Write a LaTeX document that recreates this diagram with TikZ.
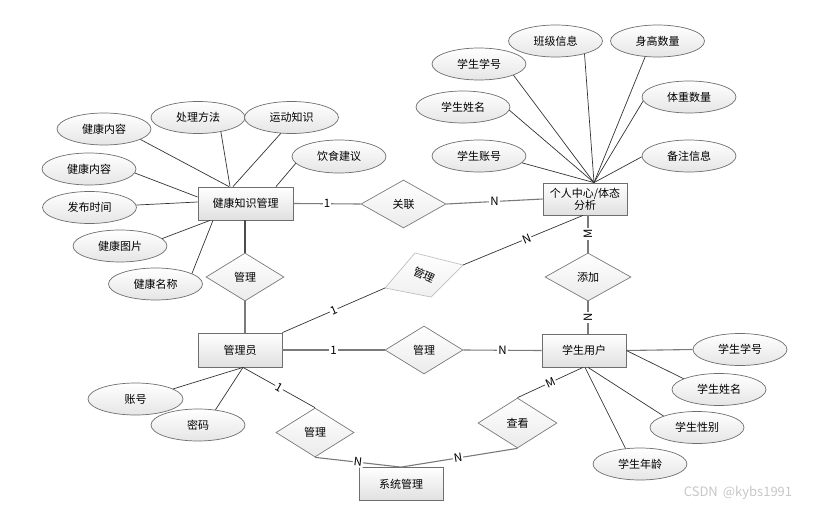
\documentclass[tikz,border=0pt]{standalone}
\usepackage{fontspec}
\setmainfont{Noto Sans CJK SC}
\usetikzlibrary{shapes.geometric,calc}
\definecolor{edgec}{HTML}{6E6E6E}
\definecolor{linec}{HTML}{333333}
\definecolor{relc}{HTML}{7A7A7A}
\tikzset{
  ent/.style={rectangle, draw=edgec, line width=0.8pt, top color=white, bottom color=black!12,
              minimum width=84pt, minimum height=33pt, inner sep=1pt, align=center},
  attr/.style={ellipse, draw=edgec, line width=0.7pt, top color=white, bottom color=black!10,
               minimum width=94pt, minimum height=32pt, inner sep=0pt},
  rel/.style={diamond, draw=relc, line width=0.7pt, top color=white, bottom color=black!8,
              minimum width=78pt, minimum height=48pt, inner sep=0pt},
  aline/.style={draw=linec, line width=0.7pt},
  rline/.style={draw=relc, line width=1.1pt},
  lab/.style={fill=white, inner sep=1pt, font=\fontsize{11.5}{13}\selectfont, text=black},
}
\begin{document}
\begin{tikzpicture}[x=1pt, y=-1pt, font=\fontsize{11}{13}\selectfont]
\useasboundingbox (0,0) rectangle (815,509);

% ---------- entities ----------
\node[ent, minimum width=95pt] (hk) at (245.5,203.5) {健康知识管理};
\node[ent, minimum height=32pt] (pc) at (585,199) {个人中心/体态\\[-1pt]分析};
\node[ent, minimum height=34pt] (ad) at (240,350) {管理员};
\node[ent] (su) at (584,350.5) {学生用户};
\node[ent] (sm) at (401,484) {系统管理};

% ---------- relationships ----------
\node[rel, minimum width=85pt] (gl) at (403.5,204) {关联};
\node[rel] (r1) at (245,277) {管理};
\node[rel, minimum width=86pt] (tj) at (588,277) {添加};
\node[rel] (r2) at (424,350) {管理};
\node[rel, minimum height=49pt] (r3) at (315,432.5) {管理};
\node[rel, minimum width=79pt, minimum height=50pt] (ck) at (517.5,423) {查看};

% light (tilted) relationship
\coordinate (lt) at (415,253);
\coordinate (lr) at (463,265);
\coordinate (lb) at (431,297);
\coordinate (ll) at (385,288);
\path[draw=black!25, line width=0.7pt, top color=white, bottom color=black!6] (lt) -- (lr) -- (lb) -- (ll) -- cycle;
\node[rotate=-25, inner sep=0pt] (ltx) at (424,275) {管理};

% ---------- attributes of 健康知识管理 ----------
\node[attr] (a1) at (104,129) {健康内容};
\node[attr] (a2) at (198,117.5) {处理方法};
\node[attr] (a3) at (291.5,117.5) {运动知识};
\node[attr, minimum height=33pt] (a4) at (339,156.5) {饮食建议};
\node[attr] (a5) at (89,169) {健康内容};
\node[attr] (a6) at (89.5,207.5) {发布时间};
\node[attr] (a7) at (120,246) {健康图片};
\node[attr] (a8) at (155.5,284) {健康名称};

% ---------- attributes of 个人中心/体态分析 ----------
\node[attr] (b1) at (479,64) {学生学号};
\node[attr] (b2) at (555.5,41) {班级信息};
\node[attr] (b3) at (657.5,41) {身高数量};
\node[attr] (b4) at (463,107) {学生姓名};
\node[attr] (b5) at (479,156) {学生账号};
\node[attr] (b6) at (689,97) {体重数量};
\node[attr] (b7) at (689,156) {备注信息};

% ---------- attributes of 学生用户 ----------
\node[attr] (c1) at (740,349.5) {学生学号};
\node[attr] (c2) at (719,389.5) {学生姓名};
\node[attr] (c3) at (697,427.5) {学生性别};
\node[attr] (c4) at (640,464) {学生年龄};

% ---------- attributes of 管理员 ----------
\node[attr, minimum width=95pt] (d1) at (135.5,399) {账号};
\node[attr] (d2) at (198,425) {密码};

% ---------- attribute lines ----------
\draw[aline] (a1.344) -- ($(hk.north)+(-16.5,0)$);
\draw[aline] (a2.-32) -- ($(hk.north)+(-15.5,0)$);
\draw[aline] (a3.236) -- ($(hk.north)+(-12.5,0)$);
\draw[aline] (a4.189) -- ($(hk.north)+(30.5,0)$);
\draw[aline] (a5.-5) -- ($(hk.west)+(0,-6.5)$);
\draw[aline] (a6.3) -- ($(hk.west)+(0,-1.5)$);
\draw[aline] (a7.10) -- ($(hk.south)+(-35.5,0)$);
\draw[aline] (a8.16) -- ($(hk.south)+(-32.5,0)$);

\coordinate (pcT) at ($(pc.north)+(9,0)$);
\draw[aline] (b1.-18) -- (pcT);
\draw[aline] (b2.-24) -- (pcT);
\draw[aline] (b3.232) -- (pcT);
\draw[aline] (b4.-4) -- (pcT);
\draw[aline] (b5.-9) -- (pcT);
\draw[aline] (b6.185) -- (pcT);
\draw[aline] (b7.181) -- (pcT);

\draw[rline] (su.east) -- (c1.west);
\draw[aline] (su.east) -- (c2.163);
\draw[aline] ($(su.south)+(4,0)$) -- (c3.161);
\draw[aline] ($(su.south)+(1,0)$) -- (c4.133);

\coordinate (adB) at ($(ad.south)+(3,0)$);
\draw[aline] (d1.15.5) -- (adB);
\draw[aline] (d2.41.6) -- (adB);

% ---------- relationship lines ----------
\draw[rline] (hk.east) -- node[lab] {1} (gl.west);
\draw[rline] (gl.east) -- node[lab] {N} (pc.west);
\draw[draw=black!70, line width=1.8pt] (hk.south -| r1.north) -- (r1.north);
\draw[rline] (r1.south) -- (r1.south |- ad.north);
\draw[aline] (ad.north east) -- node[lab, sloped] {1} (ll);
\draw[aline] (lr) -- node[lab, sloped, pos=0.53] {N} ($(pc.south)+(-2,0)$);
\draw[rline] (tj.north |- pc.south) -- node[lab, rotate=90] {M} (tj.north);
\draw[rline] (tj.south) -- node[lab, rotate=90] {N} (tj.south |- su.north);
\draw[rline] (ad.east) -- node[lab] {1} (r2.west);
\draw[rline] (r2.east) -- node[lab] {N} (su.west);
\draw[aline] (adB) -- node[lab, sloped] {1} (r3.north);
\draw[rline] (r3.south) -- node[lab, sloped] {N} (sm.north);
\draw[rline] (sm.north) -- node[lab, sloped, pos=0.49] {N} (ck.south);
\draw[aline] (ck.north) -- node[lab, sloped] {M} ($(su.south)+(-1,0)$);

% watermark
\node[text=black!22, font=\fontsize{13}{15}\selectfont] (wm) at (738,493) {CSDN \,@kybs1991};
\end{tikzpicture}
\end{document}
